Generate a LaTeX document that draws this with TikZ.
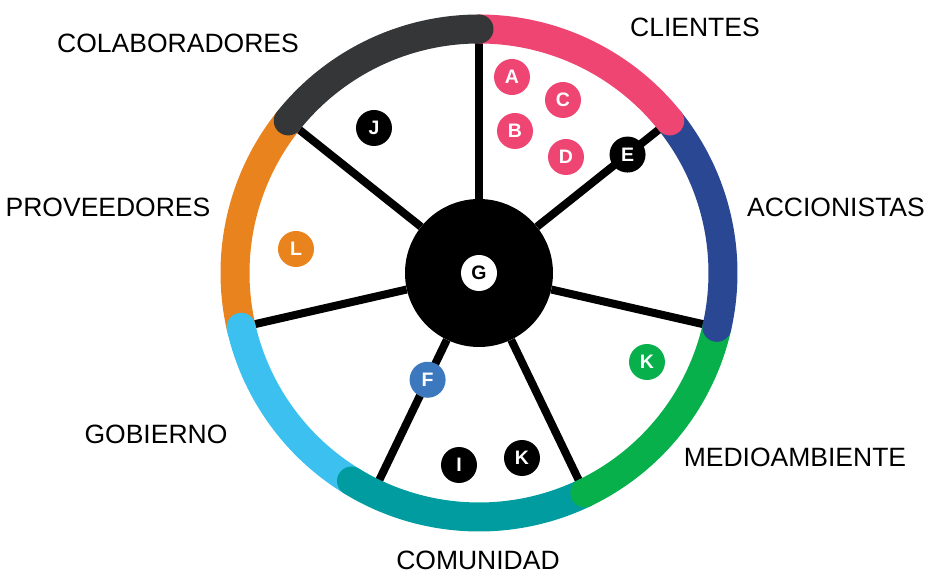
\documentclass[tikz,border=0pt]{standalone}
\usepackage{fontspec}
\setmainfont{Liberation Sans}
\usepackage{tikz}
\usetikzlibrary{calc,positioning}
\definecolor{cpink}{HTML}{EF4572}
\definecolor{cblue}{HTML}{2A4794}
\definecolor{cgreen}{HTML}{08B04C}
\definecolor{cteal}{HTML}{009CA0}
\definecolor{clight}{HTML}{3BC0F0}
\definecolor{corange}{HTML}{E8831E}
\definecolor{cdark}{HTML}{353638}
\definecolor{cfblue}{HTML}{3C78BE}
\newcommand{\grpfont}{\fontsize{26.5}{30}\selectfont}
\newcommand{\dotfont}{\fontsize{19.5}{22}\selectfont\bfseries}
\tikzset{
    hub/.style = {circle, fill=black, minimum size=148pt, inner sep=0pt},
    dot/.style = {circle, minimum size=36pt, inner sep=0pt,
        font=\dotfont, text=white},
    spoke/.style = {draw, line width=8pt},
    rim/.style = {line width=29pt, line cap=round},
    group/.style = {font=\grpfont, inner sep=0pt}
}

\begin{document}
\begin{tikzpicture}[x=1pt, y=1pt]
        \useasboundingbox (-479,-302) rectangle (450,273);
        \node [hub] (hub) at (0,0) {};
        \coordinate (s1) at (90:244pt);
        \coordinate (s2) at (38.57:244pt);
        \coordinate (s3) at (-12.86:244pt);
        \coordinate (s4) at (-64.29:244pt);
        \coordinate (s5) at (-115.71:244pt);
        \coordinate (s6) at (192.86:244pt);
        \coordinate (s7) at (141.43:244pt);
        \draw [spoke] (hub) -- (s1);
        \draw [spoke] (hub) -- (s2);
        \draw [spoke] (hub) -- (s3);
        \draw [spoke] (hub) -- (s4);
        \draw [spoke] (hub) -- (s5);
        \draw [spoke] (hub) -- (s6);
        \draw [spoke] (hub) -- (s7);
        \draw [rim, corange] (141.43:244pt) arc [start angle=141.43, end angle=192.86, radius=244pt];
        \draw [rim, clight] (192.86:244pt) arc [start angle=192.86, end angle=238.5, radius=244pt];
        \draw [rim, cteal] (238.5:244pt) arc [start angle=238.5, end angle=295.71, radius=244pt];
        \draw [rim, cgreen] (-64.29:244pt) arc [start angle=-64.29, end angle=-12.86, radius=244pt];
        \draw [rim, cblue] (-12.86:244pt) arc [start angle=-12.86, end angle=38.57, radius=244pt];
        \draw [rim, cpink] (38.57:244pt) arc [start angle=38.57, end angle=90, radius=244pt];
        \draw [rim, cdark] (90:244pt) arc [start angle=90, end angle=141.43, radius=244pt];
        \node [dot, fill=white, text=black] (g) at (0,0) {G};
        \node [dot, fill=cpink] (a) at (33,196) {A};
        \node [dot, fill=cpink] (c) at (84,173) {C};
        \node [dot, fill=cpink] (b) at (36,142) {B};
        \node [dot, fill=cpink] (d) at (87,116) {D};
        \node [dot, fill=black] (e) at (38.57:190pt) {E};
        \node [dot, fill=black] (j) at (-105,145) {J};
        \node [dot, fill=corange] (l) at (-183,24) {L};
        \node [dot, fill=cfblue] (f) at (-115.71:118.5pt) {F};
        \node [dot, fill=black] (i) at (-20,-192) {I};
        \node [dot, fill=black] (k1) at (43,-185) {K};
        \node [dot, fill=cgreen] (k2) at (168,-89) {K};
        \node [group] (colab) at (-301,230) {COLABORADORES};
        \node [group] (cli) at (216,246) {CLIENTES};
        \node [group] (prov) at (-371,66) {PROVEEDORES};
        \node [group] (acc) at (357,66) {ACCIONISTAS};
        \node [group] (gob) at (-323,-161) {GOBIERNO};
        \node [group] (med) at (316,-184) {MEDIOAMBIENTE};
        \node [group] (com) at (-1,-287) {COMUNIDAD};
\end{tikzpicture}
\end{document}
